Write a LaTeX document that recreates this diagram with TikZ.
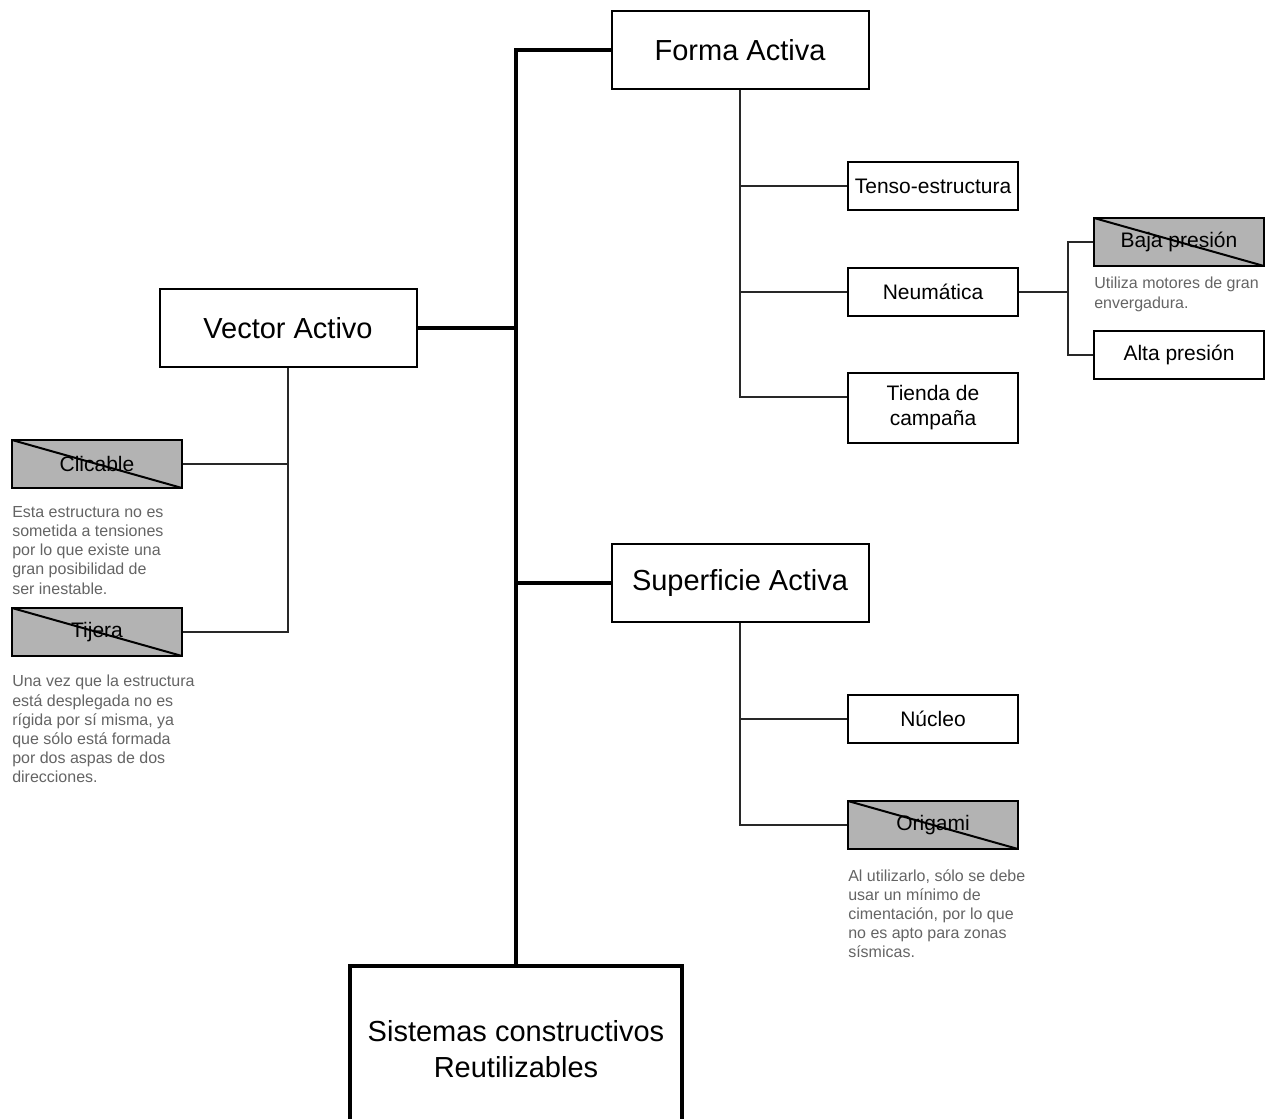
\documentclass[tikz,border=0pt]{standalone}
\usepackage{fontspec}
\setmainfont{Liberation Sans}
\usepackage{xcolor}
\usepackage{tikz}
\usetikzlibrary{positioning}

\definecolor{struckfill}{RGB}{179,179,179}
\definecolor{notegray}{RGB}{100,100,100}
\definecolor{linegray}{RGB}{40,40,40}

\begin{document}
\begin{tikzpicture}[
    x=0.75pt,
    y=-0.75pt,
    root/.style={
        draw,
        line width=3pt,
        minimum width=249pt,
        minimum height=124.5pt,
        align=center,
        font=\fontsize{21.75}{27}\selectfont
    },
    branch/.style={
        draw,
        line width=1.5pt,
        minimum width=192.75pt,
        minimum height=58.5pt,
        font=\fontsize{21.75}{27}\selectfont
    },
    leaf/.style={
        draw,
        line width=0.8pt,
        minimum width=127.5pt,
        minimum height=36pt,
        align=center,
        font=\fontsize{15.75}{18.75}\selectfont
    },
    struck/.style={
        leaf,
        fill=struckfill,
        path picture={
            \draw[line width=1.5pt] (path picture bounding box.north west)
                -- (path picture bounding box.south east);
        }
    },
    note/.style={
        anchor=north west,
        inner sep=0pt,
        align=left,
        text=notegray,
        font=\fontsize{12}{14.4}\selectfont
    },
    trunk/.style={
        line width=3pt
    },
    link/.style={
        line width=0.9pt,
        draw=linegray
    }
]
    \useasboundingbox (0,0) rectangle (1270,1118);

    % Main branches
    \node[branch] (forma) at (740,50) {Forma Activa};
    \node[branch] (vector) at (288,328) {Vector Activo};
    \node[branch] (superficie) at (740,583) {Superficie Activa};
    \node[root] (root) at (516,1049) {Sistemas constructivos\\Reutilizables};

    % Forma Activa leaves
    \node[leaf] (tenso) at (933,186) {Tenso-estructura};
    \node[leaf] (neuma) at (933,292) {Neumática};
    \node[leaf, minimum height=52.5pt] (tienda) at (933,408) {Tienda de\\campaña};
    \node[struck] (baja) at (1179,242) {Baja presión};
    \node[leaf] (alta) at (1179,355) {Alta presión};
    \coordinate (njoin) at (1068,292);

    % Vector Activo leaves
    \node[struck] (clicable) at (97,464) {Clicable};
    \node[struck] (tijera) at (97,632) {Tijera};

    % Superficie Activa leaves
    \node[leaf] (nucleo) at (933,719) {Núcleo};
    \node[struck] (origami) at (933,825) {Origami};

    % Notes under the crossed out boxes
    \node[note] (bajanote) at (1094,277) {Utiliza motores de gran\\envergadura.};
    \node[note] (clicablenote) at (12,506) {Esta estructura no es\\sometida a tensiones\\por lo que existe una\\gran posibilidad de\\ser inestable.};
    \node[note] (tijeranote) at (12,675) {Una vez que la estructura\\está desplegada no es\\rígida por sí misma, ya\\que sólo está formada\\por dos aspas de dos\\direcciones.};
    \node[note] (origaminote) at (848,869) {Al utilizarlo, sólo se debe\\usar un mínimo de\\cimentación, por lo que\\no es apto para zonas\\sísmicas.};

    % Trunk
    \draw[trunk] (root.north) |- (forma.west);
    \draw[trunk] (vector.east) -- (vector.east -| root.north);
    \draw[trunk] (superficie.west) -- (superficie.west -| root.north);

    % Forma Activa links
    \draw[link] (forma.south) |- ([yshift=8.25pt]tienda.west);
    \draw[link] (tenso.west) -- (tenso.west -| forma.south);
    \draw[link] (neuma.west) -- (neuma.west -| forma.south);
    \draw[link] (neuma.east) -- (njoin);
    \draw[link] (baja.west) -| (njoin) |- (alta.west);

    % Vector Activo links
    \draw[link] (vector.south) |- (tijera.east);
    \draw[link] (clicable.east) -- (clicable.east -| vector.south);

    % Superficie Activa links
    \draw[link] (superficie.south) |- (origami.west);
    \draw[link] (nucleo.west) -- (nucleo.west -| superficie.south);

\end{tikzpicture}
\end{document}
